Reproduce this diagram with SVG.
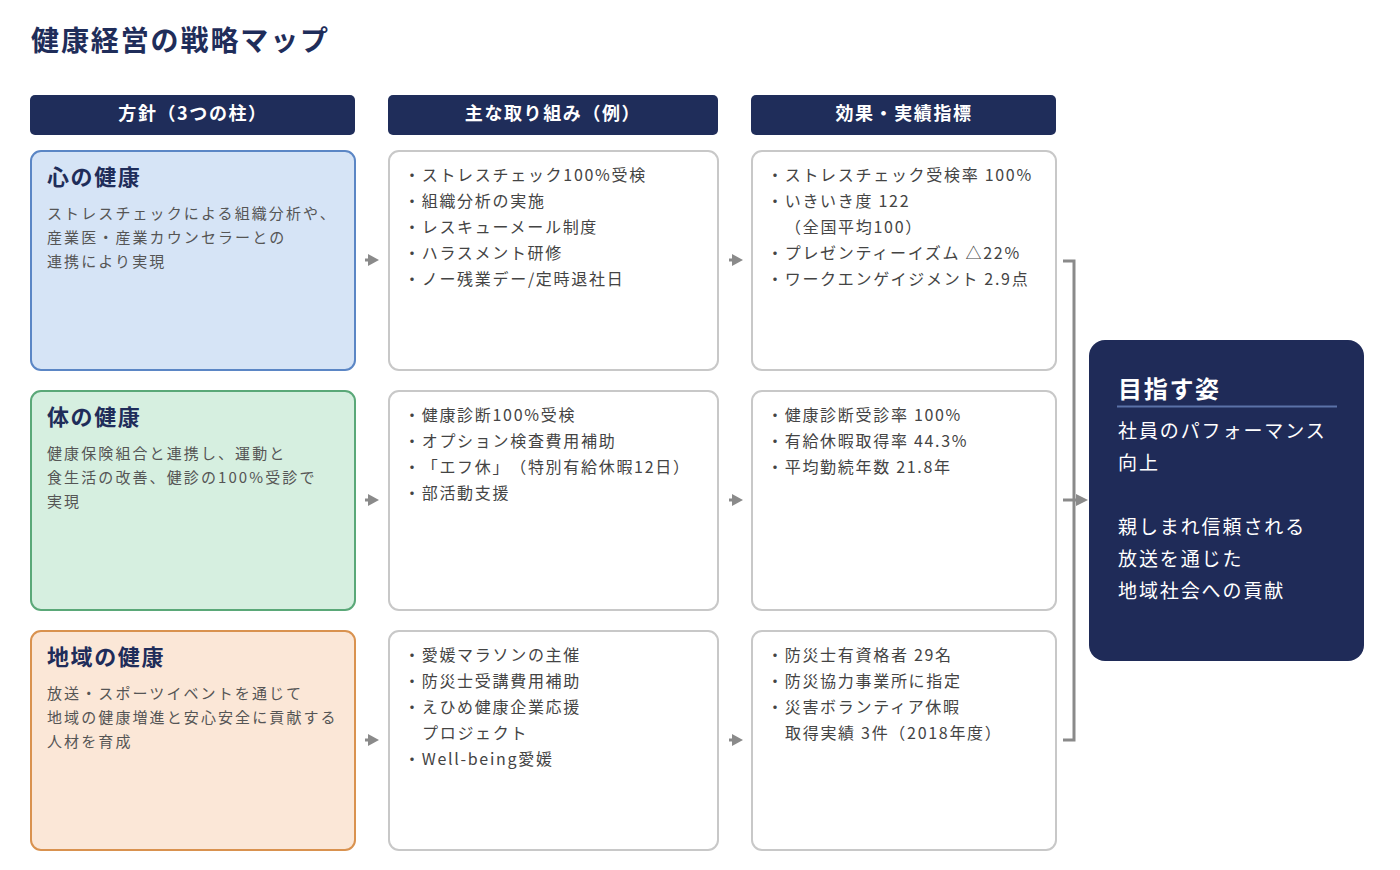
<svg xmlns="http://www.w3.org/2000/svg" width="1400" height="870" viewBox="0 0 1400 870">
<style>
text{font-family:"Noto Sans CJK JP","Noto Sans",sans-serif;text-spacing-trim:space-all;}
.title{font-size:28px;font-weight:700;fill:#1f2d5a;letter-spacing:1.9px;}
.hdr{fill:#1f2d5a;}
.hdrt{font-size:18px;font-weight:700;fill:#ffffff;letter-spacing:1.6px;text-anchor:middle;}
.bt{font-size:22px;font-weight:700;fill:#1f2d5a;letter-spacing:1.6px;}
.desc{font-size:15px;fill:#555555;letter-spacing:2.1px;}
.li{font-size:16px;fill:#444444;letter-spacing:1.7px;}
.gbox{fill:#ffffff;stroke:#c8c8c8;stroke-width:2;}
.goal{fill:#1f2b58;}
.gt{font-size:24px;font-weight:700;fill:#ffffff;letter-spacing:1.7px;}
.gb{font-size:19px;fill:#ffffff;letter-spacing:1.9px;}
.conn{stroke:#8a8a8a;stroke-width:3;fill:none;}
.ah{fill:#8a8a8a;}
</style>
<rect width="1400" height="870" fill="#ffffff"/>
<text class="title" x="31" y="51">健康経営の戦略マップ</text>

<g id="header-policy"><rect class="hdr" x="30" y="95" width="325" height="40" rx="5"/><text class="hdrt" x="193" y="120">方針（3つの柱）</text></g>
<g id="header-actions"><rect class="hdr" x="388" y="95" width="330" height="40" rx="5"/><text class="hdrt" x="553" y="120">主な取り組み（例）</text></g>
<g id="header-results"><rect class="hdr" x="751" y="95" width="305" height="40" rx="5"/><text class="hdrt" x="904" y="120">効果・実績指標</text></g>

<g id="policy-mind">
<rect x="31" y="151" width="324" height="219" rx="10" fill="#d6e4f6" stroke="#5b86c5" stroke-width="2"/>
<text class="bt" x="47" y="185">心の健康</text>
<text class="desc" x="47" y="219">ストレスチェックによる組織分析や、</text>
<text class="desc" x="47" y="243">産業医・産業カウンセラーとの</text>
<text class="desc" x="47" y="267">連携により実現</text>
</g>
<g id="policy-body">
<rect x="31" y="391" width="324" height="219" rx="10" fill="#d6efe0" stroke="#5aa878" stroke-width="2"/>
<text class="bt" x="47" y="425">体の健康</text>
<text class="desc" x="47" y="459">健康保険組合と連携し、運動と</text>
<text class="desc" x="47" y="483">食生活の改善、健診の100%受診で</text>
<text class="desc" x="47" y="507">実現</text>
</g>
<g id="policy-community">
<rect x="31" y="631" width="324" height="219" rx="10" fill="#fbe7d7" stroke="#d9924f" stroke-width="2"/>
<text class="bt" x="47" y="665">地域の健康</text>
<text class="desc" x="47" y="699">放送・スポーツイベントを通じて</text>
<text class="desc" x="47" y="723">地域の健康増進と安心安全に貢献する</text>
<text class="desc" x="47" y="747">人材を育成</text>
</g>

<g id="actions-mind">
<rect class="gbox" x="389" y="151" width="329" height="219" rx="10"/>
<text class="li" x="404" y="181">・ストレスチェック100%受検</text>
<text class="li" x="404" y="207">・組織分析の実施</text>
<text class="li" x="404" y="233">・レスキューメール制度</text>
<text class="li" x="404" y="259">・ハラスメント研修</text>
<text class="li" x="404" y="285">・ノー残業デー/定時退社日</text>
</g>
<g id="actions-body">
<rect class="gbox" x="389" y="391" width="329" height="219" rx="10"/>
<text class="li" x="404" y="421">・健康診断100%受検</text>
<text class="li" x="404" y="447">・オプション検査費用補助</text>
<text class="li" x="404" y="473">・「エフ休」（特別有給休暇12日）</text>
<text class="li" x="404" y="499">・部活動支援</text>
</g>
<g id="actions-community">
<rect class="gbox" x="389" y="631" width="329" height="219" rx="10"/>
<text class="li" x="404" y="661">・愛媛マラソンの主催</text>
<text class="li" x="404" y="687">・防災士受講費用補助</text>
<text class="li" x="404" y="713">・えひめ健康企業応援</text>
<text class="li" x="422" y="739">プロジェクト</text>
<text class="li" x="404" y="765">・Well-being愛媛</text>
</g>

<g id="results-mind">
<rect class="gbox" x="752" y="151" width="304" height="219" rx="10"/>
<text class="li" x="767" y="181">・ストレスチェック受検率 100%</text>
<text class="li" x="767" y="207">・いきいき度 122</text>
<text class="li" x="785" y="233">（全国平均100）</text>
<text class="li" x="767" y="259">・プレゼンティーイズム △22%</text>
<text class="li" x="767" y="285">・ワークエンゲイジメント 2.9点</text>
</g>
<g id="results-body">
<rect class="gbox" x="752" y="391" width="304" height="219" rx="10"/>
<text class="li" x="767" y="421">・健康診断受診率 100%</text>
<text class="li" x="767" y="447">・有給休暇取得率 44.3%</text>
<text class="li" x="767" y="473">・平均勤続年数 21.8年</text>
</g>
<g id="results-community">
<rect class="gbox" x="752" y="631" width="304" height="219" rx="10"/>
<text class="li" x="767" y="661">・防災士有資格者 29名</text>
<text class="li" x="767" y="687">・防災協力事業所に指定</text>
<text class="li" x="767" y="713">・災害ボランティア休暇</text>
<text class="li" x="785" y="739">取得実績 3件（2018年度）</text>
</g>

<g id="goal">
<rect class="goal" x="1089" y="340" width="275" height="321" rx="16"/>
<text class="gt" x="1118" y="398">目指す姿</text>
<line x1="1117" y1="406.5" x2="1337" y2="406.5" stroke="#5b72a8" stroke-width="2"/>
<text class="gb" x="1118" y="438">社員のパフォーマンス</text>
<text class="gb" x="1118" y="470">向上</text>
<text class="gb" x="1118" y="534">親しまれ信頼される</text>
<text class="gb" x="1118" y="566">放送を通じた</text>
<text class="gb" x="1118" y="598">地域社会への貢献</text>
</g>

<g id="connectors">
<line class="conn" x1="365" y1="260" x2="369" y2="260"/><polygon class="ah" points="368,254 379,260 368,266"/>
<line class="conn" x1="365" y1="500" x2="369" y2="500"/><polygon class="ah" points="368,494 379,500 368,506"/>
<line class="conn" x1="365" y1="740" x2="369" y2="740"/><polygon class="ah" points="368,734 379,740 368,746"/>
<line class="conn" x1="729" y1="260" x2="733" y2="260"/><polygon class="ah" points="732,254 743,260 732,266"/>
<line class="conn" x1="729" y1="500" x2="733" y2="500"/><polygon class="ah" points="732,494 743,500 732,506"/>
<line class="conn" x1="729" y1="740" x2="733" y2="740"/><polygon class="ah" points="732,734 743,740 732,746"/>
<path class="conn" d="M1063,261 H1074 V740 H1063" stroke-width="2.5"/>
<line class="conn" x1="1063" y1="500" x2="1077" y2="500"/><polygon class="ah" points="1076,494 1088,500 1076,506"/>
</g>
</svg>
